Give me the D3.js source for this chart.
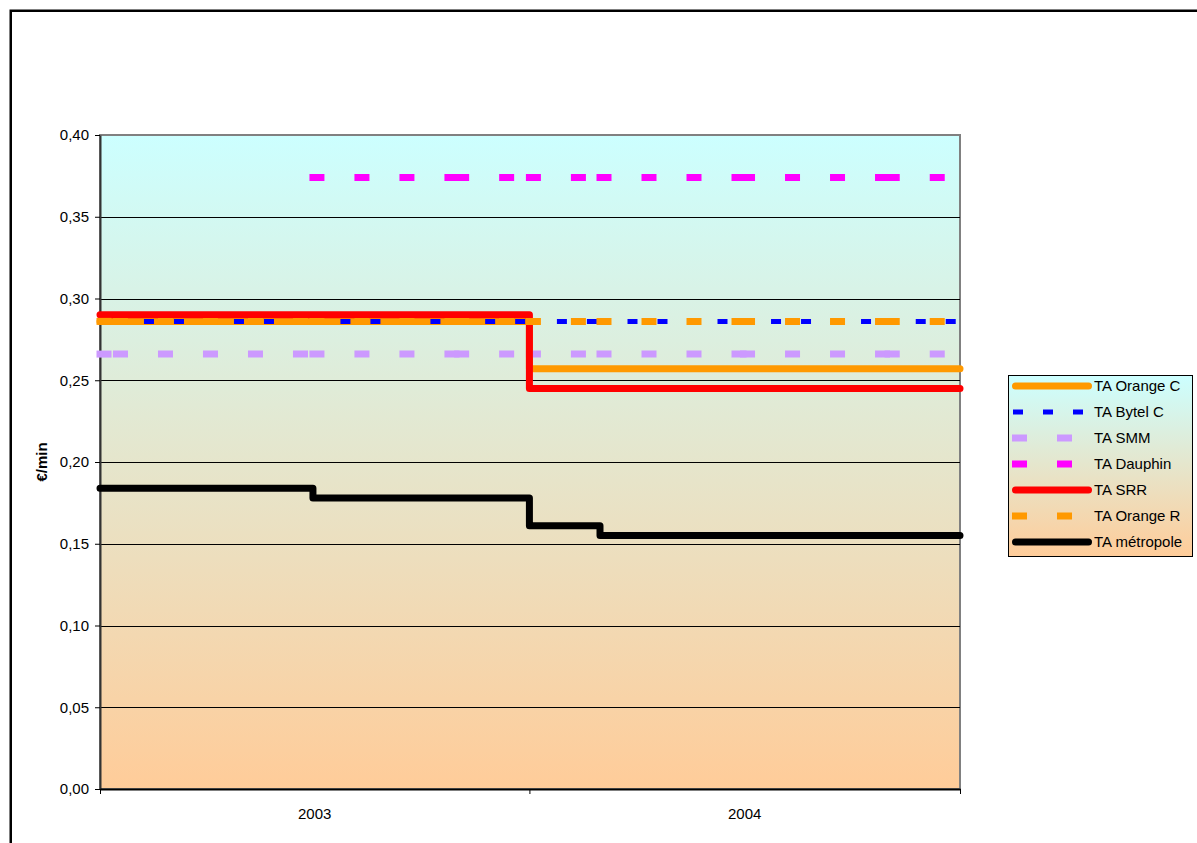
<!DOCTYPE html>
<html>
<head>
<meta charset="utf-8">
<script src="https://cdn.jsdelivr.net/npm/d3@7"></script>
<style>
  body { margin: 0; background: #fff; }
  text { font-family: Arial, "Liberation Sans", sans-serif; }
</style>
</head>
<body>
<div id="chart"></div>
<script>
// data points (step changes) shared by every series
const dates = ["2003-01-01", "2003-01-15", "2003-07-01", "2003-11-01", "2004-01-01",
  "2004-03-01", "2004-07-01", "2004-11-01", "2005-01-01"];

const orangeC = [0.286, 0.286, 0.286, 0.286, 0.257, 0.257, 0.257, 0.257, 0.257];
const bytelC = [0.286, 0.286, 0.286, 0.286, 0.286, 0.286, 0.286, 0.286, 0.286];
const smm = [0.266, 0.266, 0.266, 0.266, 0.266, 0.266, 0.266, 0.266, 0.266];
const dauphin = [null, null, 0.374, 0.374, 0.374, 0.374, 0.374, 0.374, 0.374];
const srr = [0.290, 0.290, 0.290, 0.290, 0.245, 0.245, 0.245, 0.245, 0.245];
const orangeR = [0.286, 0.286, 0.286, 0.286, 0.286, 0.286, 0.286, 0.286, 0.286];
const metropole = [0.184, 0.184, 0.178, 0.178, 0.161, 0.155, 0.155, 0.155, 0.155];

const seriesNames = ["TA Orange C", "TA Bytel C", "TA SMM", "TA Dauphin", "TA SRR", "TA Orange R", "TA métropole"];
const seriesValues = [orangeC, bytelC, smm, dauphin, srr, orangeR, metropole];

const yTicks = [0, 0.05, 0.10, 0.15, 0.20, 0.25, 0.30, 0.35, 0.40];
const years = ["2003", "2004"];

// line looks, same order as the series
const styles = [
  { color: "#ff9900", width: 7, dash: null },
  { color: "#0000ff", width: 5, dash: "5,25" },
  { color: "#cc99ff", width: 7, dash: "8,37" },
  { color: "#ff00ff", width: 7, dash: "8,37" },
  { color: "#ff0000", width: 7, dash: null },
  { color: "#ff9900", width: 7, dash: "8,37" },
  { color: "#000000", width: 7, dash: null }
];

const svgWidth = 1197;
const svgHeight = 843;
const plot = { left: 100, right: 960, top: 135, bottom: 789 };
const fontSize = "15px";

const svg = d3.select("#chart")
  .append("svg")
  .attr("width", svgWidth)
  .attr("height", svgHeight);

// background gradient, used for plot area and legend
const grad = svg.append("defs")
  .append("linearGradient")
  .attr("id", "bg")
  .attr("x1", 0).attr("y1", 0)
  .attr("x2", 0).attr("y2", 1);
grad.append("stop").attr("offset", "0%").attr("stop-color", "#ccffff");
grad.append("stop").attr("offset", "100%").attr("stop-color", "#ffcc99");

// outer frame
svg.append("rect")
  .attr("x", 10.75)
  .attr("y", 10.75)
  .attr("width", 1300)
  .attr("height", 1000)
  .attr("fill", "none")
  .attr("stroke", "#000")
  .attr("stroke-width", 2.5);

const parse = d3.timeParse("%Y-%m-%d");

const x = d3.scaleTime()
  .domain([parse("2003-01-01"), parse("2005-01-01")])
  .range([plot.left, plot.right]);

const y = d3.scaleLinear()
  .domain([0, 0.40])
  .range([plot.bottom, plot.top]);

// plot area
svg.append("rect")
  .attr("x", plot.left)
  .attr("y", plot.top)
  .attr("width", plot.right - plot.left)
  .attr("height", plot.bottom - plot.top)
  .attr("fill", "url(#bg)")
  .attr("stroke", "#808080")
  .attr("stroke-width", 2);

// gridlines
svg.append("g")
  .selectAll("line")
  .data(yTicks.filter(d => d > 0 && d < 0.40))
  .enter()
  .append("line")
  .attr("x1", plot.left)
  .attr("x2", plot.right)
  .attr("y1", d => Math.round(y(d)) + 0.5)
  .attr("y2", d => Math.round(y(d)) + 0.5)
  .attr("stroke", "#000")
  .attr("stroke-width", 1);

const fr = d3.formatLocale({ decimal: ",", thousands: " ", grouping: [3], currency: ["", "€"] });

// y axis
const yAxis = svg.append("g")
  .attr("transform", `translate(${plot.left}, 0)`)
  .call(d3.axisLeft(y).tickValues(yTicks).tickFormat(fr.format(".2f")).tickSize(5).tickSizeOuter(0).tickPadding(6));
yAxis.select(".domain").attr("stroke", "#333").attr("stroke-width", 2);
yAxis.selectAll("text").attr("font-size", fontSize).attr("fill", "#000").attr("font-family", "Arial, 'Liberation Sans', sans-serif");

// x axis: ticks at year boundaries, labels in the middle
const yearStarts = ["2003-01-01", "2004-01-01", "2005-01-01"].map(parse);
const xAxis = svg.append("g")
  .attr("transform", `translate(0, ${plot.bottom})`)
  .call(d3.axisBottom(x).tickValues(yearStarts).tickFormat("").tickSize(5).tickSizeOuter(0));
xAxis.select(".domain").attr("stroke", "#000").attr("stroke-width", 2);

svg.append("g")
  .selectAll("text")
  .data(years)
  .enter()
  .append("text")
  .attr("x", d => (x(parse(d + "-01-01")) + x(parse((+d + 1) + "-01-01"))) / 2)
  .attr("y", 819)
  .attr("text-anchor", "middle")
  .attr("font-size", fontSize)
  .text(d => d);

// y axis title
svg.append("text")
  .attr("transform", `translate(47, ${(plot.top + plot.bottom) / 2}) rotate(-90)`)
  .attr("text-anchor", "middle")
  .attr("font-size", fontSize)
  .attr("font-weight", "bold")
  .text("€/min");

const stepLine = d3.line()
  .x(d => x(d.date))
  .y(d => y(d.value))
  .curve(d3.curveStepAfter);

const seriesGroup = svg.append("g");

// solid series as one path, dashed ones one path per interval so the dash restarts at every point
seriesValues.forEach((values, i) => {
  const pts = dates.map((d, j) => ({ date: parse(d), value: values[j] }))
    .filter(p => p.value !== null);
  const st = styles[i];
  const pieces = [];
  if (st.dash) {
    for (let j = 0; j < pts.length - 1; j++) pieces.push([pts[j], pts[j + 1]]);
  } else {
    pieces.push(pts);
  }
  pieces.forEach(p => {
    seriesGroup.append("path")
      .attr("d", stepLine(p))
      .attr("fill", "none")
      .attr("stroke", st.color)
      .attr("stroke-width", st.width)
      .attr("stroke-dasharray", st.dash)
      .attr("stroke-linecap", st.dash ? "square" : "round")
      .attr("stroke-linejoin", "round");
  });
});

// legend
const legend = svg.append("g");
legend.append("rect")
  .attr("x", 1008.5)
  .attr("y", 375.5)
  .attr("width", 184)
  .attr("height", 181)
  .attr("fill", "url(#bg)")
  .attr("stroke", "#000")
  .attr("stroke-width", 1);

const entries = legend.selectAll("g.entry")
  .data(seriesNames)
  .enter()
  .append("g")
  .classed("entry", true)
  .attr("transform", (d, i) => `translate(0, ${386 + i * 26})`);

entries.append("line")
  .attr("x1", 1015.5)
  .attr("x2", 1088.5)
  .attr("y1", 0)
  .attr("y2", 0)
  .attr("stroke", (d, i) => styles[i].color)
  .attr("stroke-width", (d, i) => styles[i].width)
  .attr("stroke-dasharray", (d, i) => styles[i].dash)
  .attr("stroke-linecap", (d, i) => styles[i].dash ? "square" : "round");

entries.append("text")
  .attr("x", 1094)
  .attr("y", 0)
  .attr("dy", "0.35em")
  .attr("font-size", fontSize)
  .text(d => d);
</script>
</body>
</html>
